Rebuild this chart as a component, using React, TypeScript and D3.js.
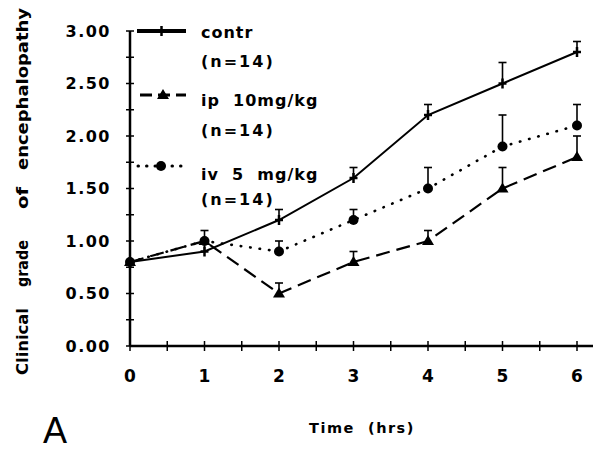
import React from 'react';
import * as d3 from 'd3';

// hours after induction
const hours = [0, 1, 2, 3, 4, 5, 6];

// clinical grade means and upper error bar ends
const contrMean = [0.8, 0.9, 1.2, 1.6, 2.2, 2.5, 2.8];
const contrUpper = [0.8, 1.0, 1.3, 1.7, 2.3, 2.7, 2.9];
const ipMean = [0.8, 1.0, 0.5, 0.8, 1.0, 1.5, 1.8];
const ipUpper = [0.8, 1.0, 0.6, 0.9, 1.1, 1.7, 2.0];
const ivMean = [0.8, 1.0, 0.9, 1.2, 1.5, 1.9, 2.1];
const ivUpper = [0.8, 1.1, 1.0, 1.3, 1.7, 2.2, 2.3];

const yTicks = [0, 0.5, 1, 1.5, 2, 2.5, 3];
const yMinor = d3.range(0, 3.01, 0.25);
const xMinor = d3.range(0, 6.51, 0.5);

const FONT = '"DejaVu Sans", Verdana, sans-serif';

const W = 597;
const H = 451;

const x = d3.scaleLinear().domain([0, 6]).range([130, 577]);
const y = d3.scaleLinear().domain([0, 3]).range([346, 31]);

type Marker = 'plus' | 'tri' | 'dot';

const MarkerShape: React.FC<{ kind: Marker; cx: number; cy: number }> = ({ kind, cx, cy }) => {
  if (kind === 'dot') return <circle cx={cx} cy={cy} r={5} fill="#000" />;
  if (kind === 'tri')
    return <path d={`M${cx},${cy - 6}L${cx + 6},${cy + 4}L${cx - 6},${cy + 4}Z`} fill="#000" />;
  return (
    <g stroke="#000" strokeWidth={2.5}>
      <line x1={cx - 4} x2={cx + 4} y1={cy} y2={cy} />
      <line x1={cx} x2={cx} y1={cy - 5} y2={cy + 5} />
    </g>
  );
};

const series = [
  { mean: contrMean, upper: contrUpper, marker: 'plus' as Marker, dash: undefined, width: 2, cap: 'butt' },
  { mean: ipMean, upper: ipUpper, marker: 'tri' as Marker, dash: '14 7', width: 2.2, cap: 'butt' },
  { mean: ivMean, upper: ivUpper, marker: 'dot' as Marker, dash: '0.5 9', width: 2.6, cap: 'round' },
];

const legend = [
  { label: 'contr', ly: 31, ty: 38, ny: 67, marker: 'plus' as Marker, dash: undefined, width: 4, cap: 'butt', x1: 137, x2: 186 },
  { label: 'ip  10mg/kg', ly: 95, ty: 106, ny: 136, marker: 'tri' as Marker, dash: '12 6', width: 3, cap: 'butt', x1: 140, x2: 186 },
  { label: 'iv  5  mg/kg', ly: 166, ty: 180, ny: 205, marker: 'dot' as Marker, dash: '0.5 8', width: 3, cap: 'round', x1: 138, x2: 184 },
];

// y title words: [word, start y, length]
const yTitle: [string, number, number][] = [
  ['Clinical', 375, 67],
  ['grade', 287, 47],
  ['of', 209, 22],
  ['encephalopathy', 170, 162],
];

const App: React.FC = () => {
  const line = d3
    .line<number>()
    .x((_, i) => x(hours[i]))
    .y((d) => y(d));

  return (
    <svg
      width={W}
      height={H}
      viewBox={`0 0 ${W} ${H}`}
      style={{ position: 'absolute', left: 0, top: 0, background: '#fff' }}
      fontFamily={FONT}
    >
      <rect width={W} height={H} fill="#fff" />

      {/* axes */}
      <line x1={130} x2={130} y1={y(3)} y2={y(0)} stroke="#000" strokeWidth={2.5} />
      <line x1={130} x2={593} y1={y(0)} y2={y(0)} stroke="#000" strokeWidth={2.5} />
      {yMinor.map((v) => (
        <line key={'ym' + v} x1={126} x2={134} y1={y(v)} y2={y(v)} stroke="#000" strokeWidth={1.5} />
      ))}
      {xMinor.map((v) => (
        <line key={'xm' + v} x1={x(v)} x2={x(v)} y1={y(0) - 5} y2={y(0) + 5} stroke="#000" strokeWidth={1.5} />
      ))}
      {yTicks.map((v) => (
        <text
          key={'yt' + v}
          x={111}
          y={y(v)}
          dy="0.36em"
          textAnchor="end"
          fontSize={16}
          fontWeight="bold"
          letterSpacing={1.5}
        >
          {v.toFixed(2)}
        </text>
      ))}
      {hours.map((h) => (
        <text key={'xt' + h} x={x(h)} y={382} textAnchor="middle" fontSize={17} fontWeight="bold">
          {h}
        </text>
      ))}

      {/* axis titles */}
      {yTitle.map(([w, sy, len]) => (
        <text
          key={w}
          transform={`translate(28,${sy}) rotate(-90)`}
          fontSize={16}
          fontWeight="bold"
          textLength={len}
          lengthAdjust="spacingAndGlyphs"
        >
          {w}
        </text>
      ))}
      <text
        x={362}
        y={433}
        textAnchor="middle"
        fontSize={14.5}
        fontWeight="bold"
        letterSpacing={1.5}
        style={{ whiteSpace: 'pre' }}
      >
        {'Time  (hrs)'}
      </text>
      <text x={43} y={443} fontSize={36} fontFamily='"Liberation Sans", Arial, sans-serif'>
        A
      </text>

      {/* series */}
      {series.map((s, k) => (
        <g key={'s' + k}>
          {s.mean.map((m, i) =>
            s.upper[i] > m ? (
              <g key={i} stroke="#000" strokeWidth={1.6}>
                <line x1={x(hours[i])} x2={x(hours[i])} y1={y(m)} y2={y(s.upper[i])} />
                <line x1={x(hours[i]) - 4} x2={x(hours[i]) + 4} y1={y(s.upper[i])} y2={y(s.upper[i])} />
              </g>
            ) : null
          )}
          <path
            d={line(s.mean) || ''}
            fill="none"
            stroke="#000"
            strokeWidth={s.width}
            strokeDasharray={s.dash}
            strokeLinecap={s.cap as any}
          />
          {s.mean.map((m, i) => (
            <MarkerShape key={'m' + i} kind={s.marker} cx={x(hours[i])} cy={y(m)} />
          ))}
        </g>
      ))}

      {/* legend */}
      {legend.map((l) => (
        <g key={l.label}>
          <line
            x1={l.x1}
            x2={l.x2}
            y1={l.ly}
            y2={l.ly}
            stroke="#000"
            strokeWidth={l.width}
            strokeDasharray={l.dash}
            strokeLinecap={l.cap as any}
          />
          <MarkerShape kind={l.marker} cx={(l.x1 + l.x2) / 2} cy={l.ly} />
          <text x={201} y={l.ty} fontSize={16} fontWeight="bold" letterSpacing={1} style={{ whiteSpace: 'pre' }}>
            {l.label}
          </text>
          <text x={201} y={l.ny} fontSize={16} fontWeight="bold" letterSpacing={2} style={{ whiteSpace: 'pre' }}>
            {'(n=14)'}
          </text>
        </g>
      ))}
    </svg>
  );
};

export default App;
